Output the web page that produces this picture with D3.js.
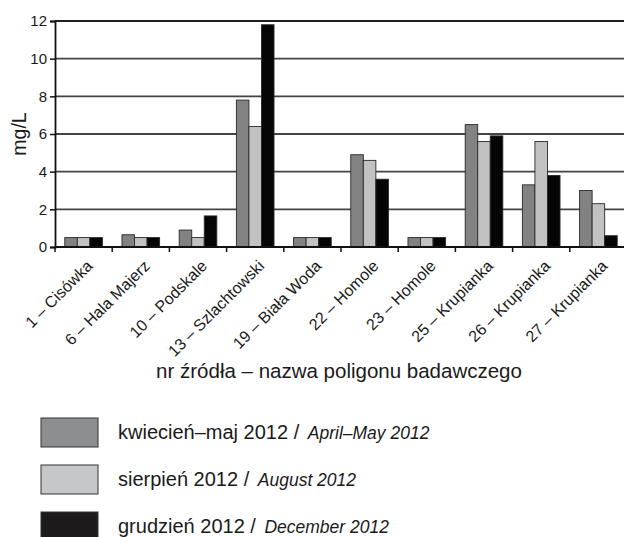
<!DOCTYPE html>
<html>
<head>
<meta charset="utf-8">
<script src="https://cdn.jsdelivr.net/npm/d3@7"></script>
<style>
  html, body { margin: 0; padding: 0; background: #fff; }
  svg { display: block; font-family: "Liberation Sans", Arial, sans-serif; }
</style>
</head>
<body>
<svg id="chart" width="624" height="537"></svg>
<script>
// Sampling points (spring number – study site)
const categories = [
  "1 – Cisówka", "6 – Hala Majerz", "10 – Podskale", "13 – Szlachtowski",
  "19 – Biała Woda", "22 – Homole", "23 – Homole", "25 – Krupianka",
  "26 – Krupianka", "27 – Krupianka"
];
// Concentrations in mg/L for each sampling campaign
const aprilMay = [0.5, 0.65, 0.9, 7.8, 0.5, 4.9, 0.5, 6.5, 3.3, 3.0];
const august   = [0.5, 0.5, 0.5, 6.4, 0.5, 4.6, 0.5, 5.6, 5.6, 2.3];
const december = [0.5, 0.5, 1.65, 11.8, 0.5, 3.6, 0.5, 5.9, 3.8, 0.6];
const yTicks = [0, 2, 4, 6, 8, 10, 12];

const seriesNames = ["aprilMay", "august", "december"];
const seriesValues = { aprilMay, august, december };
const legendItems = [
  { key: "aprilMay", pl: "kwiecień–maj 2012 / ", en: "April–May 2012" },
  { key: "august",   pl: "sierpień 2012 / ",     en: "August 2012" },
  { key: "december", pl: "grudzień 2012 / ",     en: "December 2012" }
];
const colors = { aprilMay: "#828282", august: "#c2c2c2", december: "#050505" };
const swatchColors = { aprilMay: "#8d8e90", august: "#c6c7c8", december: "#1c1a1a" };

const FONT = "'Liberation Sans', Arial, sans-serif";
const svg = d3.select("#chart");
const plot = { left: 55, right: 627, top: 21, bottom: 247 };

const x = d3.scaleBand().domain(categories).range([plot.left, plot.right]);
const x1 = d3.scaleBand().domain(seriesNames).range([0, x.bandwidth()]).paddingOuter(0.78);
const y = d3.scaleLinear().domain([0, 12]).range([plot.bottom, plot.top]);

// horizontal gridlines
svg.append("g")
  .selectAll("line")
  .data(yTicks.filter(d => d > 0))
  .join("line")
  .attr("x1", plot.left).attr("x2", 624)
  .attr("y1", d => y(d)).attr("y2", d => y(d))
  .attr("stroke", d => d === 12 ? "#1e1e1e" : "#444")
  .attr("stroke-width", 1.8);

// bars
const groups = svg.append("g")
  .selectAll("g")
  .data(categories)
  .join("g")
  .attr("transform", d => `translate(${x(d)},0)`);

groups.selectAll("rect")
  .data((d, i) => seriesNames.map(k => ({ key: k, value: seriesValues[k][i] })))
  .join("rect")
  .attr("x", d => x1(d.key))
  .attr("width", x1.bandwidth())
  .attr("y", d => y(d.value))
  .attr("height", d => y(0) - y(d.value))
  .attr("fill", d => colors[d.key])
  .attr("stroke", "#2a2a2a")
  .attr("stroke-width", 0.9);

// y axis
const yAxis = svg.append("g")
  .attr("transform", `translate(${plot.left},0)`)
  .call(d3.axisLeft(y).tickValues(yTicks).tickSize(5).tickPadding(3));
yAxis.attr("font-family", FONT);
yAxis.select(".domain").attr("stroke", "#111").attr("stroke-width", 1.8);
yAxis.selectAll(".tick line").attr("stroke", "#111").attr("stroke-width", 1.5);
yAxis.selectAll(".tick text")
  .attr("font-size", 15).attr("fill", "#1a1a1a");

// x axis: ticks at the band boundaries
const xAxisG = svg.append("g");
xAxisG.append("line")
  .attr("x1", plot.left).attr("x2", 624)
  .attr("y1", plot.bottom).attr("y2", plot.bottom)
  .attr("stroke", "#111").attr("stroke-width", 1.8);
xAxisG.selectAll("line.tick")
  .data(categories)
  .join("line")
  .attr("class", "tick")
  .attr("x1", d => x(d)).attr("x2", d => x(d))
  .attr("y1", plot.bottom).attr("y2", plot.bottom + 5)
  .attr("stroke", "#111").attr("stroke-width", 1.5);

xAxisG.selectAll("text")
  .data(categories)
  .join("text")
  .attr("transform", d => `translate(${x(d) + x.bandwidth() / 2 + 10},${plot.bottom + 20}) rotate(-45)`)
  .attr("text-anchor", "end")
  .attr("font-size", 16)
  .attr("fill", "#1a1a1a")
  .text(d => d);

// axis titles
svg.append("text")
  .attr("transform", `translate(26,${(plot.top + plot.bottom) / 2}) rotate(-90)`)
  .attr("text-anchor", "middle")
  .attr("font-size", 19.5)
  .attr("fill", "#1a1a1a")
  .text("mg/L");

svg.append("text")
  .attr("x", 339).attr("y", 378)
  .attr("text-anchor", "middle")
  .attr("font-size", 20.5)
  .attr("fill", "#1a1a1a")
  .text("nr źródła – nazwa poligonu badawczego");

// legend
const legend = svg.append("g")
  .selectAll("g")
  .data(legendItems)
  .join("g")
  .attr("transform", (d, i) => `translate(41,${418 + i * 47})`);

legend.append("rect")
  .attr("width", 57).attr("height", 29)
  .attr("fill", d => swatchColors[d.key])
  .attr("stroke", "#333").attr("stroke-width", 1);

const lt = legend.append("text")
  .attr("x", 77).attr("y", 21)
  .attr("font-size", 20)
  .attr("fill", "#1a1a1a");
lt.append("tspan").text(d => d.pl);
lt.append("tspan").attr("dx", 3).attr("font-style", "italic").attr("font-size", 17.5).text(d => d.en);
</script>
</body>
</html>
